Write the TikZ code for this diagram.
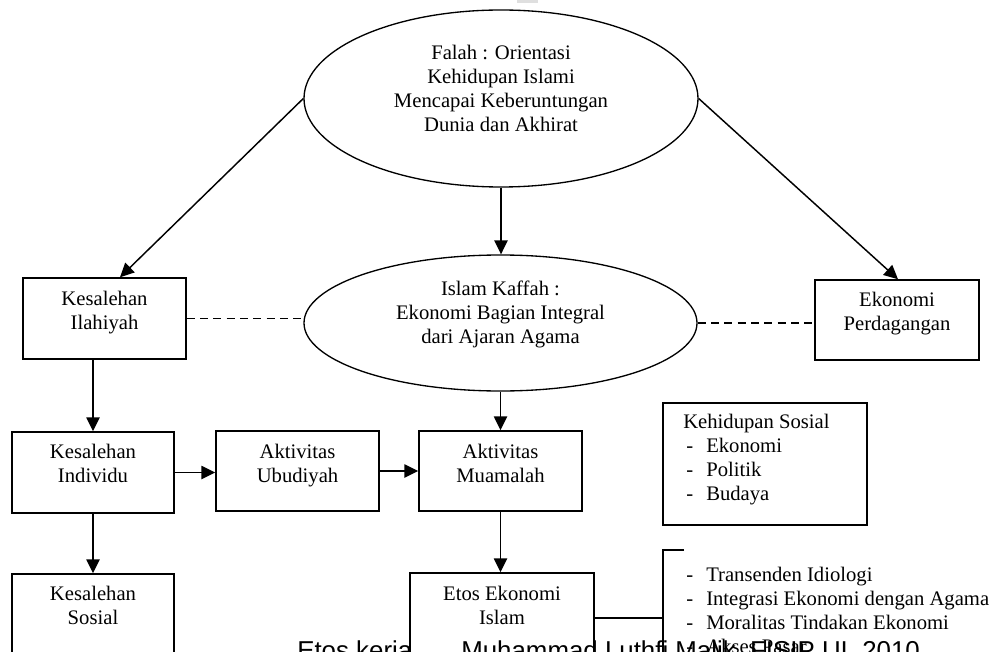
\documentclass[tikz,border=0pt]{standalone}
\usepackage{fontspec}
\setmainfont{Liberation Serif}
\newfontfamily\footfont{Liberation Sans}
\usetikzlibrary{shapes.geometric,arrows.meta,calc}
\begin{document}
\begin{tikzpicture}[x=0.75pt,y=-0.75pt,
  boxnode/.style={draw, line width=1.1pt, inner sep=0pt, rectangle},
  ellnode/.style={draw, line width=1pt, inner sep=0pt, ellipse},
  txt/.style={align=center, inner sep=0pt, font=\fontsize{15.5}{18}\selectfont, execute at begin node=\strut, anchor=north},
  ltxt/.style={txt, align=left, anchor=north west},
  arr/.style={-{Triangle[length=10.5pt,width=10pt]}, line width=1.1pt},
  dashln/.style={dash pattern=on 6pt off 4pt, line width=0.9pt},
  plain/.style={line width=1.1pt}
]
\useasboundingbox (0,0) rectangle (991,652);
\clip (0,0) rectangle (991,652);
\fill[gray!25] (517,0) rectangle (538,3);

% ellipses
\node[ellnode, minimum width=295.5pt, minimum height=132.75pt] (falah) at (501,98.5) {};
\node[txt] (falahT) at (501,45) {Falah : Orientasi\\Kehidupan Islami\\Mencapai Keberuntungan\\Dunia dan Akhirat};
\node[ellnode, minimum width=294.75pt, minimum height=102pt] (kaffah) at (500.5,323) {};
\node[txt] (kaffahT) at (500.5,281) {Islam Kaffah :\\Ekonomi Bagian Integral\\dari Ajaran Agama};

% boxes
\node[boxnode, minimum width=122.25pt, minimum height=60.75pt] (kesIl) at (104.5,318.5) {};
\node[txt] (kesIlT) at (104.5,291) {Kesalehan\\Ilahiyah};
\node[boxnode, minimum width=123pt, minimum height=60pt] (ekoPer) at (897,320) {};
\node[txt] (ekoPerT) at (897,292) {Ekonomi\\Perdagangan};
\node[boxnode, minimum width=121.5pt, minimum height=60.75pt] (kesInd) at (93,472.5) {};
\node[txt] (kesIndT) at (93,444) {Kesalehan\\Individu};
\node[boxnode, minimum width=122.25pt, minimum height=60pt] (ubud) at (297.5,471) {};
\node[txt] (ubudT) at (297.5,444) {Aktivitas\\Ubudiyah};
\node[boxnode, minimum width=122.25pt, minimum height=60pt] (muam) at (500.5,471) {};
\node[txt] (muamT) at (500.5,444) {Aktivitas\\Muamalah};
\node[boxnode, minimum width=121.5pt, minimum height=60.75pt] (kesSos) at (93,614.5) {};
\node[txt] (kesSosT) at (93,586) {Kesalehan\\Sosial};
\node[boxnode, minimum width=138pt, minimum height=60.75pt] (etos) at (502,613.5) {};
\node[txt] (etosT) at (502,586) {Etos Ekonomi\\Islam};
\node[boxnode, minimum width=153pt, minimum height=91.5pt] (kehSos) at (765,464) {};
\node[ltxt] (kehSosT) at (683,414) {Kehidupan Sosial\\
\hspace*{2.25pt}\makebox[15pt][l]{-}Ekonomi\\
\hspace*{2.25pt}\makebox[15pt][l]{-}Politik\\
\hspace*{2.25pt}\makebox[15pt][l]{-}Budaya};
\node[ltxt] (etosList) at (686,567) {\makebox[15pt][l]{-}Transenden Idiologi\\
\makebox[15pt][l]{-}Integrasi Ekonomi dengan Agama\\
\makebox[15pt][l]{-}Moralitas Tindakan Ekonomi\\
\makebox[15pt][l]{-}Akses Pasar};

% connectors
\draw[arr] (falah.west) -- ($(kesIl.north)+(15.5,0)$);
\draw[arr] (falah.east) -- ($(ekoPer.north)+(1,0)$);
\draw[arr] (falah.south) -- (falah.south |- kaffah.north);
\draw[arr] (kaffah.south) -- (kaffah.south |- muam.north);
\draw[dashln] (kesIl.east) -- (kesIl.east -| kaffah.west);
\draw[dashln] (kaffah.east) -- (kaffah.east -| ekoPer.west);
\draw[arr] (kesInd.north |- kesIl.south) -- (kesInd.north);
\draw[arr] (kesInd.south) -- (kesSos.north);
\draw[arr] (kesInd.east) -- (kesInd.east -| ubud.west);
\draw[arr] (ubud.east) -- (ubud.east -| muam.west);
\draw[arr] (muam.south) -- (muam.south |- etos.north);

% bracket
\coordinate (brkTop) at (663,550);
\coordinate (brkTick) at (684,550);
\coordinate (brkBot) at (663,660);
\coordinate (brkMid) at (663,618);
\draw[plain] (brkTick) -- (brkTop) -- (brkBot);
\draw[plain] (etos.east |- brkMid) -- (brkMid);

% footer
\node[anchor=base west, inner sep=0pt, font=\footfont\fontsize{19.4}{22}\selectfont] (footer) at (297,659.5) {Etos kerja\hspace*{36.75pt}Muhammad Luthfi Malik, FISIP UI, 2010};
\end{tikzpicture}
\end{document}
